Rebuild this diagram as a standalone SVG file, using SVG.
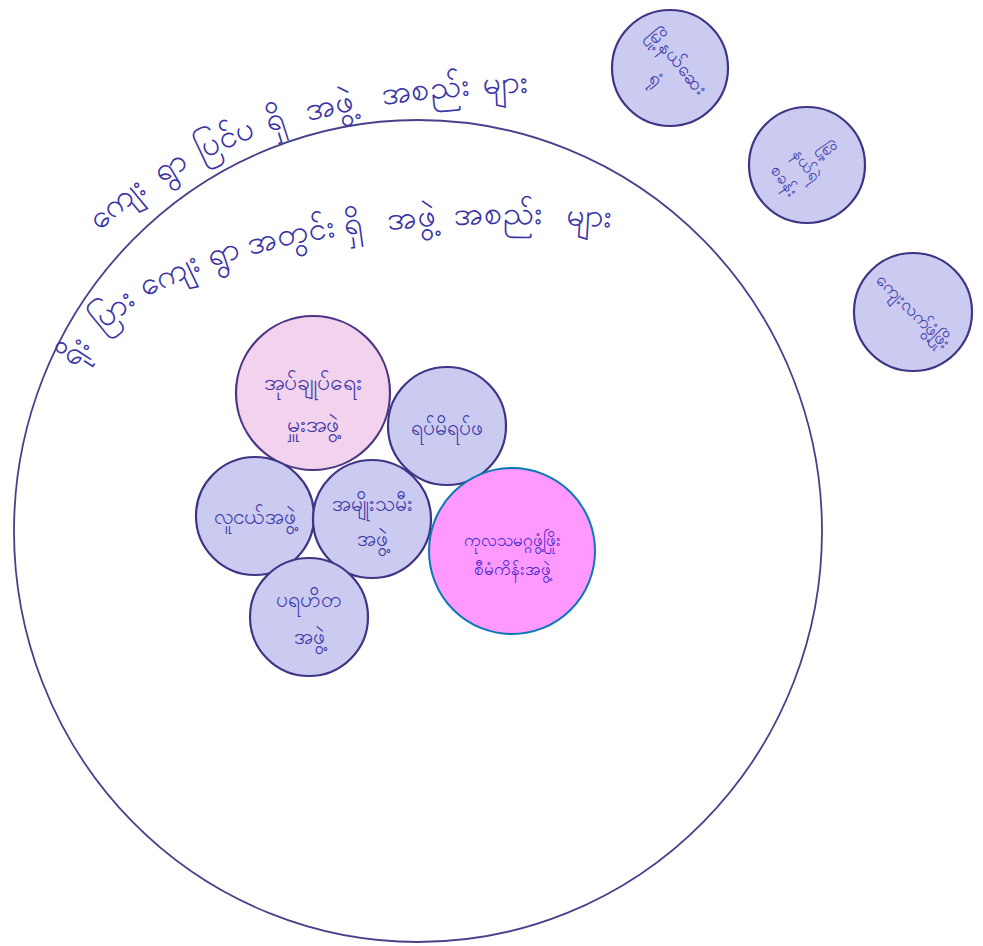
<svg xmlns="http://www.w3.org/2000/svg" width="983" height="946" viewBox="0 0 983 946">
<style>
.ink{font-family:"Noto Sans","DejaVu Sans",sans-serif;fill:#3a34a6;}
.arc{font-size:32px;}
.lav{fill:#cbcbf2;stroke:#3f3585;stroke-width:2.2;}
.pink{fill:#f2d2ec;stroke:#4a3585;stroke-width:2.2;}
.lbl{font-size:21px;text-anchor:middle;}
</style>
<defs>
<path id="outerArc" d="M 100 232 C 200 135, 350 92, 575 92"/>
<path id="innerArc" d="M 76 368 C 140 246, 400 205, 660 232"/>
</defs>
<rect width="983" height="946" fill="#ffffff"/>
<g id="boundary">
<ellipse cx="418" cy="531" rx="404" ry="411" fill="none" stroke="#4a3f8a" stroke-width="1.8"/>
</g>
<g id="label-outside">
<text class="ink arc"><textPath href="#outerArc" startOffset="0%">ကျေး</textPath></text>
<text class="ink arc"><textPath href="#outerArc" startOffset="15.5%">ရွာ</textPath></text>
<text class="ink arc"><textPath href="#outerArc" startOffset="24.5%">ပြင်ပ</textPath></text>
<text class="ink arc"><textPath href="#outerArc" startOffset="39%">ရှိ</textPath></text>
<text class="ink arc"><textPath href="#outerArc" startOffset="47%">အဖွဲ့</textPath></text>
<text class="ink arc"><textPath href="#outerArc" startOffset="62%">အစည်း</textPath></text>
<text class="ink arc"><textPath href="#outerArc" startOffset="82%">များ</textPath></text>
</g>
<g id="label-inside">
<text class="ink arc"><textPath href="#innerArc" startOffset="0%">ရိုး</textPath></text>
<text class="ink arc"><textPath href="#innerArc" startOffset="7%">ပြား</textPath></text>
<text class="ink arc"><textPath href="#innerArc" startOffset="16%">ကျေး</textPath></text>
<text class="ink arc"><textPath href="#innerArc" startOffset="27.5%">ရွာ</textPath></text>
<text class="ink arc"><textPath href="#innerArc" startOffset="34%">အတွင်း</textPath></text>
<text class="ink arc"><textPath href="#innerArc" startOffset="49.5%">ရှိ</textPath></text>
<text class="ink arc"><textPath href="#innerArc" startOffset="56.5%">အဖွဲ့</textPath></text>
<text class="ink arc"><textPath href="#innerArc" startOffset="67%">အစည်း</textPath></text>
<text class="ink arc"><textPath href="#innerArc" startOffset="85%">များ</textPath></text>
</g>
<g id="hospital">
<circle class="lav" cx="670" cy="68" r="58"/>
<text class="ink lbl" style="font-size:19px" transform="translate(670,68) rotate(50)"><tspan x="0" y="-4">မြို့နယ်ဆေး</tspan><tspan x="0" y="24">ရုံ</tspan></text>
</g>
<g id="police">
<circle class="lav" cx="807" cy="165" r="58"/>
<text class="ink lbl" style="font-size:17px" transform="translate(807,165) rotate(55)"><tspan x="0" y="-20">မြို့</tspan><tspan x="0" y="6">နယ်ရဲ</tspan><tspan x="0" y="33">စခန်း</tspan></text>
</g>
<g id="rural">
<circle class="lav" cx="913" cy="312" r="59"/>
<text class="ink lbl" style="font-size:18px" transform="translate(913,312) rotate(45)"><tspan x="0" y="5">ကျေးလက်ဖွံ့ဖြိုး</tspan></text>
</g>
<g id="admin">
<circle class="pink" cx="313" cy="393" r="77"/>
<text class="ink lbl" style="font-size:23px"><tspan x="313" y="390">အုပ်ချုပ်ရေး</tspan><tspan x="313" y="432">မှူးအဖွဲ့</tspan></text>
</g>
<g id="elders">
<circle class="lav" cx="447" cy="426" r="59"/>
<text class="ink lbl"><tspan x="447" y="435">ရပ်မိရပ်ဖ</tspan></text>
</g>
<g id="youth">
<circle class="lav" cx="255" cy="516" r="59"/>
<text class="ink lbl"><tspan x="255" y="524">လူငယ်အဖွဲ့</tspan></text>
</g>
<g id="women">
<circle class="lav" cx="372" cy="519" r="59"/>
<text class="ink lbl"><tspan x="372" y="511">အမျိုးသမီး</tspan><tspan x="372" y="546">အဖွဲ့</tspan></text>
</g>
<g id="charity">
<circle class="lav" cx="309" cy="617" r="59"/>
<text class="ink lbl"><tspan x="309" y="607">ပရဟိတ</tspan><tspan x="309" y="644">အဖွဲ့</tspan></text>
</g>
<g id="undp">
<circle cx="512" cy="551" r="83" fill="#ff99ff" stroke="#0a78b8" stroke-width="2"/>
<text class="lbl" style="font-size:17px;font-family:'Noto Sans','DejaVu Sans',sans-serif;fill:#3a22c8"><tspan x="512" y="546">ကုလသမဂ္ဂဖွံ့ဖြိုး</tspan><tspan x="512" y="575">စီမံကိန်းအဖွဲ့</tspan></text>
</g>
</svg>
